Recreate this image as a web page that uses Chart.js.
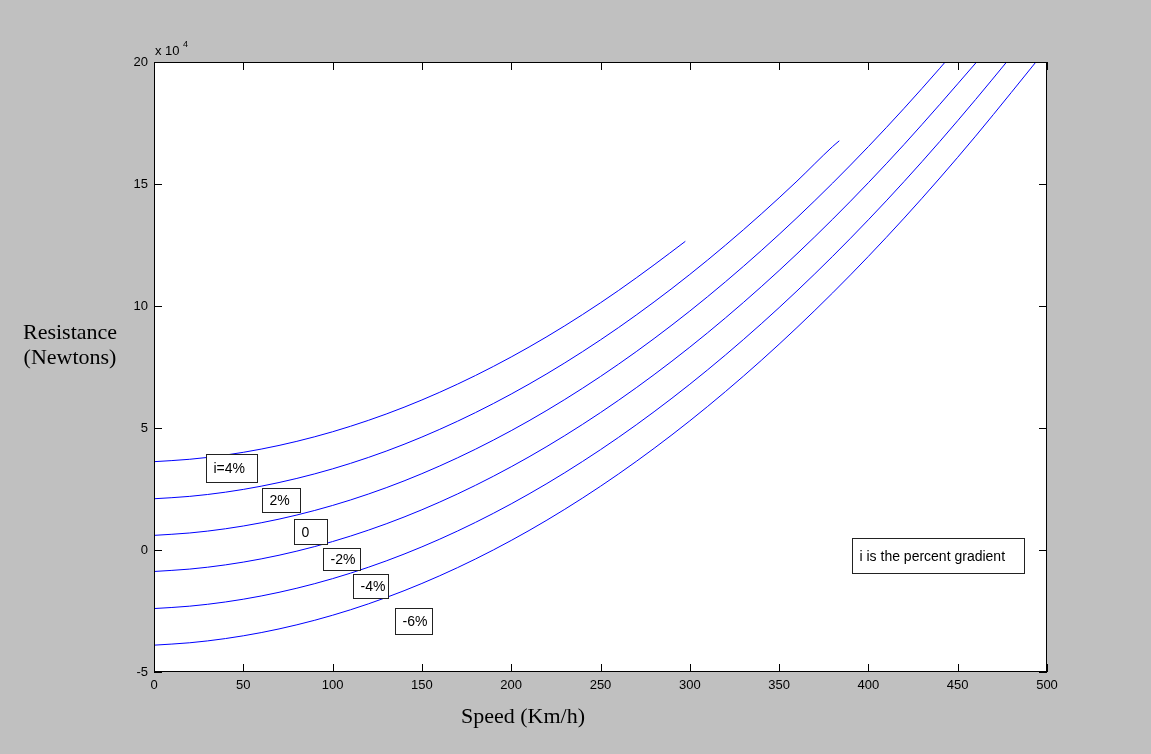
<!DOCTYPE html>
<html>
<head>
<meta charset="utf-8">
<script src="https://cdn.jsdelivr.net/npm/chart.js@4/dist/chart.umd.min.js"></script>
<style>
  html, body { margin: 0; padding: 0; background: #c0c0c0; }
  #wrap { width: 1151px; height: 754px; position: relative; }
</style>
</head>
<body>
<div id="wrap"><canvas id="c" width="1151" height="754"></canvas></div>
<script>
// ---- data (speed in km/h, resistance in N) ----
const xTicks = [0, 50, 100, 150, 200, 250, 300, 350, 400, 450, 500];
const yTicks = [-50000, 0, 50000, 100000, 150000, 200000];

const speedsI4 = [0,20,40,60,80,100,120,140,160,180,200,220,240,260,280,297.5];
const resI4    = [36200,37180,38900,41350,44540,48460,53120,58510,64650,71510,79110,87440,96510,106310,116860,126500];

const speedsI2 = [0,20,40,60,80,100,120,140,160,180,200,220,240,260,280,300,320,340,360,380,383.7];
const resI2    = [21000,21980,23700,26150,29340,33260,37920,43310,49450,56310,63910,72240,81310,91110,101660,112930,124950,137690,151170,165380,167700];

const speedsI0 = [0,20,40,60,80,100,120,140,160,180,200,220,240,260,280,300,320,340,360,380,400,420,440,443];
const resI0    = [6000,6980,8700,11150,14340,18260,22920,28310,34450,41310,48910,57240,66310,76110,86660,97930,109950,122690,136170,150380,165340,181020,197450,200000];

const speedsIm2 = [0,20,40,60,80,100,120,140,160,180,200,220,240,260,280,300,320,340,360,380,400,420,440,460.6];
const resIm2    = [-8800,-7820,-6100,-3650,-460,3460,8120,13510,19650,26510,34110,42440,51510,61310,71860,83130,95150,107890,121370,135580,150540,166220,182650,200000];

const speedsIm4 = [0,20,40,60,80,100,120,140,160,180,200,220,240,260,280,300,320,340,360,380,400,420,440,460,477.4];
const resIm4    = [-24000,-23020,-21300,-18850,-15660,-11740,-7080,-1690,4450,11310,18910,27240,36310,46110,56660,67930,79950,92690,106170,120380,135340,151020,167450,184600,200000];

const speedsIm6 = [0,20,40,60,80,100,120,140,160,180,200,220,240,260,280,300,320,340,360,380,400,420,440,460,480,493.8];
const resIm6    = [-39000,-38020,-36300,-33850,-30660,-26740,-22080,-16690,-10550,-3690,3910,12240,21310,31110,41660,52930,64950,77690,91170,105380,120340,136020,152450,169600,187500,200000];

const seriesNames = ['i=4%', '2%', '0', '-2%', '-4%', '-6%'];
const noteText = 'i is the percent gradient';

// ---- build datasets ----
function pts(xs, ys) { return xs.map((x, i) => ({ x: x, y: ys[i] })); }
const allSeries = [
  pts(speedsI4, resI4), pts(speedsI2, resI2), pts(speedsI0, resI0),
  pts(speedsIm2, resIm2), pts(speedsIm4, resIm4), pts(speedsIm6, resIm6)
];

// label boxes: anchor (top-left) in data coords, size in px
const labelBoxes = [
  { text: seriesNames[0], x: 29.1,  y: 39300,  w: 51, h: 28 },
  { text: seriesNames[1], x: 60.5,  y: 25400,  w: 38, h: 24 },
  { text: seriesNames[2], x: 78.4,  y: 12700,  w: 33, h: 25 },
  { text: seriesNames[3], x: 94.6,  y: 800,    w: 37, h: 22 },
  { text: seriesNames[4], x: 111.4, y: -9800,  w: 35, h: 24 },
  { text: seriesNames[5], x: 134.9, y: -23800, w: 37, h: 26 },
  { text: noteText,       x: 390.8, y: 4900,   w: 172, h: 35 }
];

const tickFont = '13px "Liberation Sans", Arial, sans-serif';

const matlabPlugin = {
  id: 'matlab',
  beforeDraw(chart) {
    const { ctx, chartArea: a } = chart;
    ctx.save();
    ctx.fillStyle = '#c0c0c0';
    ctx.fillRect(0, 0, chart.width, chart.height);
    ctx.fillStyle = '#ffffff';
    ctx.fillRect(a.left, a.top, a.right - a.left, a.bottom - a.top);
    ctx.restore();
  },
  afterDatasetsDraw(chart) {
    const { ctx, chartArea: a, scales } = chart;
    const xs = scales.x, ys = scales.y;
    ctx.save();
    // frame
    ctx.strokeStyle = '#000';
    ctx.lineWidth = 1;
    ctx.strokeRect(Math.round(a.left) + 0.5, Math.round(a.top) + 0.5,
                   Math.round(a.right - a.left) - 1, Math.round(a.bottom - a.top) - 1);
    // inward ticks
    const tl = 8;
    ctx.beginPath();
    xTicks.forEach(v => {
      const px = Math.round(xs.getPixelForValue(v)) + 0.5;
      ctx.moveTo(px, a.bottom); ctx.lineTo(px, a.bottom - tl);
      ctx.moveTo(px, a.top); ctx.lineTo(px, a.top + tl);
    });
    yTicks.forEach(v => {
      const py = Math.round(ys.getPixelForValue(v)) + 0.5;
      ctx.moveTo(a.left, py); ctx.lineTo(a.left + tl, py);
      ctx.moveTo(a.right, py); ctx.lineTo(a.right - tl, py);
    });
    ctx.stroke();

    // label boxes
    labelBoxes.forEach(b => {
      const bx = Math.round(xs.getPixelForValue(b.x)) + 0.5;
      const by = Math.round(ys.getPixelForValue(b.y)) + 0.5;
      ctx.fillStyle = '#fff';
      ctx.fillRect(bx, by, b.w, b.h);
      ctx.strokeStyle = '#222';
      ctx.lineWidth = 1;
      ctx.strokeRect(bx, by, b.w, b.h);
      ctx.fillStyle = '#000';
      ctx.font = '14px "Liberation Sans", Arial, sans-serif';
      ctx.textAlign = 'left';
      ctx.textBaseline = 'middle';
      ctx.fillText(b.text, bx + 7, by + b.h / 2 + 1);
    });

    // exponent label
    ctx.fillStyle = '#000';
    ctx.textBaseline = 'alphabetic';
    ctx.textAlign = 'left';
    ctx.font = '13px "Liberation Sans", Arial, sans-serif';
    ctx.fillText('x 10', a.left + 1, a.top - 7);
    ctx.font = '9px "Liberation Sans", Arial, sans-serif';
    ctx.fillText('4', a.left + 29, a.top - 15);

    // axis titles
    ctx.font = '22px "Liberation Serif", "Times New Roman", serif';
    ctx.textAlign = 'center';
    ctx.textBaseline = 'middle';
    ctx.fillText('Resistance', 70, 333);
    ctx.fillText('(Newtons)', 70, 358);
    ctx.fillText('Speed (Km/h)', 523, 717);
    ctx.restore();
  }
};

const colors = 'rgb(0,0,255)';
new Chart(document.getElementById('c'), {
  type: 'line',
  data: {
    datasets: allSeries.map((d, i) => ({
      label: seriesNames[i],
      data: d,
      borderColor: colors,
      borderWidth: 1,
      pointRadius: 0,
      fill: false,
      cubicInterpolationMode: 'monotone'
    }))
  },
  options: {
    responsive: false,
    animation: false,
    events: [],
    layout: { padding: { left: 0, top: 62, right: 104, bottom: 0 } },
    plugins: { legend: { display: false }, tooltip: { enabled: false } },
    scales: {
      x: {
        type: 'linear', min: 0, max: 500,
        afterBuildTicks: s => { s.ticks = xTicks.map(v => ({ value: v })); },
        afterFit: s => { s.height = 82; },
        grid: { display: false, drawTicks: false },
        border: { display: false },
        ticks: { padding: 6, color: '#000', font: { family: '"Liberation Sans", Arial, sans-serif', size: 13 }, maxRotation: 0 }
      },
      y: {
        type: 'linear', min: -50000, max: 200000,
        afterBuildTicks: s => { s.ticks = yTicks.map(v => ({ value: v })); },
        afterFit: s => { s.width = 154; },
        grid: { display: false, drawTicks: false },
        border: { display: false },
        ticks: { padding: 6, color: '#000', font: { family: '"Liberation Sans", Arial, sans-serif', size: 13 },
                 callback: v => String(v / 10000) }
      }
    }
  },
  plugins: [matlabPlugin]
});
</script>
</body>
</html>
